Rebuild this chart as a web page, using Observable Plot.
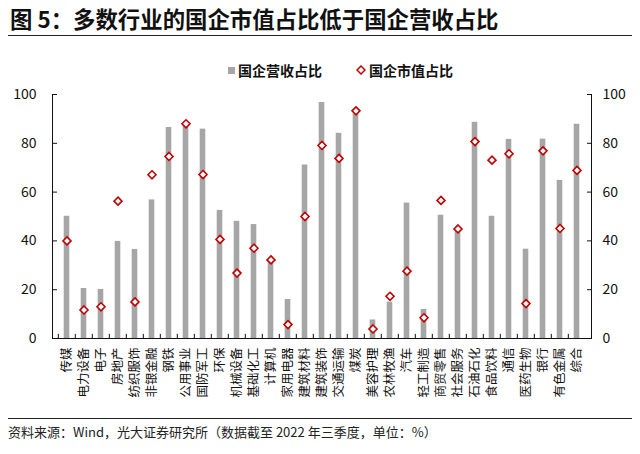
<!DOCTYPE html>
<html>
<head>
<meta charset="utf-8">
<script src="https://cdn.jsdelivr.net/npm/d3@7"></script>
<script src="https://cdn.jsdelivr.net/npm/@observablehq/plot@0.6"></script>
<style>
  html, body { margin: 0; padding: 0; background: #fff; }
  body { width: 640px; height: 454px; position: relative; overflow: hidden; font-family: "Noto Sans CJK SC", "Noto Sans", sans-serif; color: #111; }
  #title { position: absolute; left: 10px; top: 3px; font-size: 22.4px; font-weight: bold; line-height: 30px; white-space: nowrap; }
  #rule1 { position: absolute; left: 8px; width: 624px; top: 35px; height: 0; border-top: 1.5px solid #222; }
  #legend { position: absolute; left: 228px; top: 60px; height: 20px; display: flex; align-items: center; font-size: 14px; font-weight: bold; white-space: nowrap; }
  #legend .sw { display: inline-block; width: 7px; height: 7px; background: #a6a6a6; margin-right: 3px; }
  #legend .gap { display: inline-block; width: 34px; }
  #chart { position: absolute; left: 0; top: 80px; }
  #rule2 { position: absolute; left: 8px; width: 624px; top: 418px; height: 0; border-top: 1.5px solid #222; }
  #source { position: absolute; left: 8px; top: 423px; font-size: 13px; line-height: 18px; white-space: nowrap; color: #222; }
</style>
</head>
<body>
<div id="title">图 5：多数行业的国企市值占比低于国企营收占比</div>
<div id="rule1"></div>
<div id="legend"><span class="sw"></span><span>国企营收占比</span><span class="gap"></span><svg width="10" height="10" style="margin-right:3px"><path d="M5,1L9,5L5,9L1,5Z" fill="#fff" stroke="#c00000" stroke-width="1.5"/></svg><span>国企市值占比</span></div>
<div id="chart"></div>
<div id="rule2"></div>
<div id="source">资料来源：Wind，光大证券研究所（数据截至 2022 年三季度，单位：%）</div>
<script>
const industries = ["传媒","电力设备","电子","房地产","纺织服饰","非银金融","钢铁","公用事业","国防军工","环保","机械设备","基础化工","计算机","家用电器","建筑材料","建筑装饰","交通运输","煤炭","美容护理","农林牧渔","汽车","轻工制造","商贸零售","社会服务","石油石化","食品饮料","通信","医药生物","银行","有色金属","综合"];
const revenueShare = [50.1,20.5,20.1,39.8,36.5,56.8,86.5,87.2,85.8,52.5,48.0,46.7,32.0,16.0,71.1,96.7,84.1,92.5,7.6,14.9,55.5,11.9,50.5,44.3,88.6,50.1,81.6,36.6,81.7,64.8,87.8];
const marketCapShare = [40.0,11.7,13.0,56.3,15.0,67.1,74.6,88.0,67.2,40.6,26.8,37.0,32.2,5.7,50.0,79.1,73.8,93.3,3.9,17.3,27.6,8.5,56.6,44.9,80.7,73.1,75.7,14.3,76.9,45.1,68.9];
const yTicks = [0,20,40,60,80,100];

const data = industries.map((name, i) => ({name, revenue: revenueShare[i], cap: marketCapShare[i]}));

const width = 640, height = 335, mL = 52, mR = 49, mT = 14, mB = 77;
const step = (width - mL - mR) / industries.length;
const barW = 6;
const inset = (step - barW) / 2;

const chart = Plot.plot({
  width, height,
  marginLeft: mL, marginRight: mR, marginTop: mT, marginBottom: mB,
  style: {fontFamily: "'Noto Sans CJK SC', 'Noto Sans', sans-serif", color: "#111", background: "transparent"},
  x: {domain: industries, padding: 0, label: null},
  y: {domain: [0, 100], label: null},
  marks: [
    Plot.barY(data, {x: "name", y: "revenue", fill: "#a6a6a6", insetLeft: inset, insetRight: inset}),
    Plot.dot(data, {x: "name", y: "cap", symbol: "diamond2", r: 3.6, stroke: "#c00000", strokeWidth: 1.6, fill: "#fff"}),
    Plot.axisY(yTicks, {anchor: "left", tickSize: 0, tickPadding: 16, fontSize: 14, label: null}),
    Plot.axisY(yTicks, {anchor: "right", tickSize: 0, tickPadding: 11, fontSize: 14, label: null}),
    Plot.axisY(yTicks, {anchor: "left", tickSize: 5, dx: 5, fill: "none", label: null, stroke: "#111"}),
    Plot.axisY(yTicks, {anchor: "right", tickSize: 5, dx: -5, fill: "none", label: null, stroke: "#111"}),
    Plot.axisX({anchor: "bottom", tickSize: 0, tickPadding: 9, tickRotate: -90, fontSize: 12.5, label: null}),
    Plot.ruleX(industries, {x: d => d, y1: 0, y2: 1.7, dx: -step / 2, stroke: "#111"}),
    Plot.frame({anchor: "left", stroke: "#111"}),
    Plot.frame({anchor: "right", stroke: "#111"}),
    Plot.frame({anchor: "bottom", stroke: "#111"})
  ]
});
document.getElementById("chart").appendChild(chart);
</script>
</body>
</html>
